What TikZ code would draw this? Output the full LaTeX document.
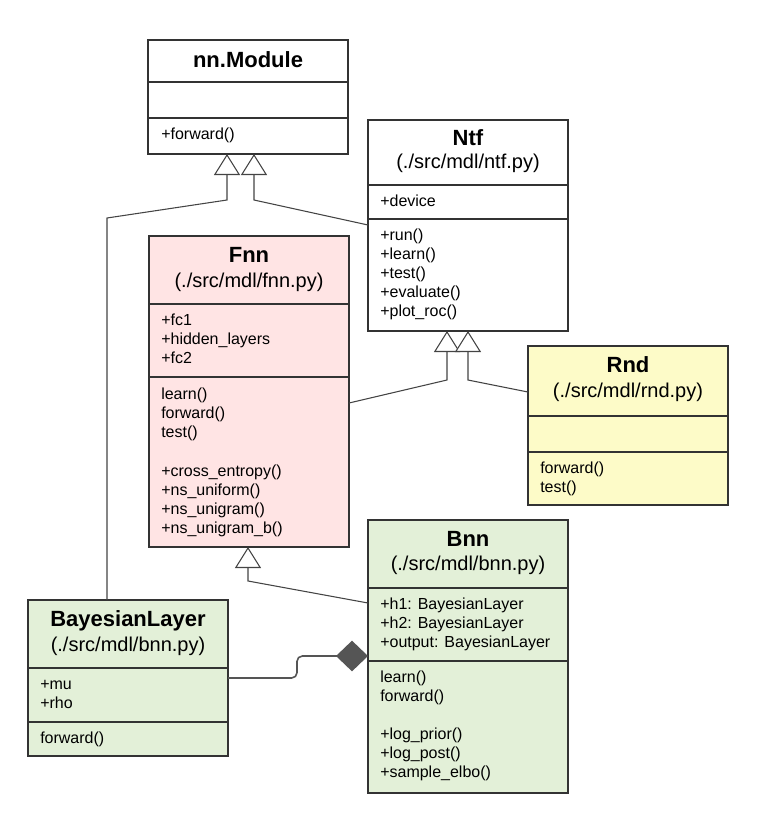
\documentclass[tikz,border=0pt]{standalone}
\usepackage{fontspec}
\setmainfont{Liberation Sans}
\usetikzlibrary{arrows.meta}

\definecolor{boxline}{HTML}{333333}
\definecolor{linkgray}{HTML}{444444}
\definecolor{compgray}{HTML}{555555}
\definecolor{fnnpink}{HTML}{FFE4E4}
\definecolor{rndyellow}{HTML}{FDFBC8}
\definecolor{bnngreen}{HTML}{E3F0D8}

\tikzset{
  classbox/.style={draw=boxline, line width=1.5pt, rectangle, anchor=north west,
    minimum width=150pt, inner sep=0pt, outer sep=0pt},
  clsname/.style={font=\fontsize{16.5}{19}\selectfont\bfseries, anchor=base, inner sep=0pt},
  clsfile/.style={font=\fontsize{15}{18}\selectfont, anchor=base, inner sep=0pt},
  item/.style={font=\fontsize{12}{14}\selectfont, anchor=base west, inner sep=0pt},
  divider/.style={draw=boxline, line width=1.5pt},
  inherit/.style={draw=linkgray, line width=0.8pt,
    -{Triangle[open,length=15.75pt,width=19.5pt,fill=white]}},
  compose/.style={draw=compgray, line width=1.2pt, rounded corners=4pt,
    -{Diamond[length=24pt,width=23pt,fill=compgray]}}
}

\begin{document}
\begin{tikzpicture}[x=0.75pt,y=-0.75pt]
\useasboundingbox (0,0) rectangle (768,833);

% nn.Module
\node[classbox, fill=white, minimum height=85.5pt] (nnmod) at (148,40) {};
\draw[divider] (nnmod.west |- 0,82) -- (nnmod.east |- 0,82);
\draw[divider] (nnmod.west |- 0,118) -- (nnmod.east |- 0,118);
\node[clsname] (nnmodT) at (nnmod.north |- 0,67) {nn.Module};
\node[item] (nnmodM) at (161,139) {+forward()};

% Ntf
\node[classbox, fill=white, minimum height=158.25pt] (ntf) at (368,120) {};
\draw[divider] (ntf.west |- 0,185) -- (ntf.east |- 0,185);
\draw[divider] (ntf.west |- 0,219) -- (ntf.east |- 0,219);
\node[clsname] (ntfT) at (ntf.north |- 0,145) {Ntf};
\node[clsfile] (ntfF) at (ntf.north |- 0,168) {(./src/mdl/ntf.py)};
\node[item] (ntfA) at (380,206) {+device};
\foreach \t [count=\i] in {+run(),+learn(),+test(),+evaluate(),+plot\_roc()}
  \node[item] (ntfM\i) at (380,221+19*\i) {\t};

% Fnn
\node[classbox, fill=fnnpink, minimum height=233.25pt] (fnn) at (149,236) {};
\draw[divider] (fnn.west |- 0,304) -- (fnn.east |- 0,304);
\draw[divider] (fnn.west |- 0,377) -- (fnn.east |- 0,377);
\node[clsname] (fnnT) at (fnn.north |- 0,262) {Fnn};
\node[clsfile] (fnnF) at (fnn.north |- 0,287) {(./src/mdl/fnn.py)};
\foreach \t [count=\i] in {+fc1,+hidden\_layers,+fc2}
  \node[item] (fnnA\i) at (161,306+19*\i) {\t};
\foreach \t [count=\i] in {learn(),forward(),test()}
  \node[item] (fnnM\i) at (161,380+19*\i) {\t};
\foreach \t [count=\i] in {+cross\_entropy(),+ns\_uniform(),+ns\_unigram(),+ns\_unigram\_b()}
  \node[item] (fnnN\i) at (161,457+19*\i) {\t};

% Rnd
\node[classbox, fill=rndyellow, minimum height=119.25pt] (rnd) at (528,346) {};
\draw[divider] (rnd.west |- 0,416) -- (rnd.east |- 0,416);
\draw[divider] (rnd.west |- 0,452) -- (rnd.east |- 0,452);
\node[clsname] (rndT) at (rnd.north |- 0,372) {Rnd};
\node[clsfile] (rndF) at (rnd.north |- 0,397) {(./src/mdl/rnd.py)};
\foreach \t [count=\i] in {forward(),test()}
  \node[item] (rndM\i) at (540,454+19*\i) {\t};

% Bnn
\node[classbox, fill=bnngreen, minimum height=204.75pt] (bnn) at (368,520) {};
\draw[divider] (bnn.west |- 0,588) -- (bnn.east |- 0,588);
\draw[divider] (bnn.west |- 0,661) -- (bnn.east |- 0,661);
\node[clsname] (bnnT) at (bnn.north |- 0,546) {Bnn};
\node[clsfile] (bnnF) at (bnn.north |- 0,570) {(./src/mdl/bnn.py)};
\foreach \t [count=\i] in {+h1: BayesianLayer,+h2: BayesianLayer,+output: BayesianLayer}
  \node[item] (bnnA\i) at (380,590+19*\i) {\t};
\foreach \t [count=\i] in {learn(),forward()}
  \node[item] (bnnM\i) at (380,663+19*\i) {\t};
\foreach \t [count=\i] in {+log\_prior(),+log\_post(),+sample\_elbo()}
  \node[item] (bnnN\i) at (380,720+19*\i) {\t};

% BayesianLayer
\node[classbox, fill=bnngreen, minimum height=117pt] (blayer) at (28,600) {};
\draw[divider] (blayer.west |- 0,668) -- (blayer.east |- 0,668);
\draw[divider] (blayer.west |- 0,722) -- (blayer.east |- 0,722);
\node[clsname] (blayerT) at (blayer.north |- 0,626) {BayesianLayer};
\node[clsfile] (blayerF) at (blayer.north |- 0,651) {(./src/mdl/bnn.py)};
\foreach \t [count=\i] in {+mu,+rho}
  \node[item] (blayerA\i) at (40,670+19*\i) {\t};
\node[item] (blayerM) at (40,743) {forward()};

% connectors
\draw[inherit] (blayer.north -| 107,0) -- (107,218) -- (227,200) -- (nnmod.south -| 227,0);
\draw[inherit] (ntf.west |- 0,225) -- (254,200) -- (nnmod.south -| 254,0);
\draw[inherit] (fnn.east |- 0,403) -- (447,380) -- (ntf.south -| 447,0);
\draw[inherit] (rnd.west |- 0,392) -- (468,380) -- (ntf.south -| 468,0);
\draw[inherit] (bnn.west |- 0,603) -- (248,581) -- (fnn.south -| 248,0);
\draw[compose] (blayer.east |- 0,678) -- (297,678) -- (297,656) -- (bnn.west |- 0,656);
\end{tikzpicture}
\end{document}
